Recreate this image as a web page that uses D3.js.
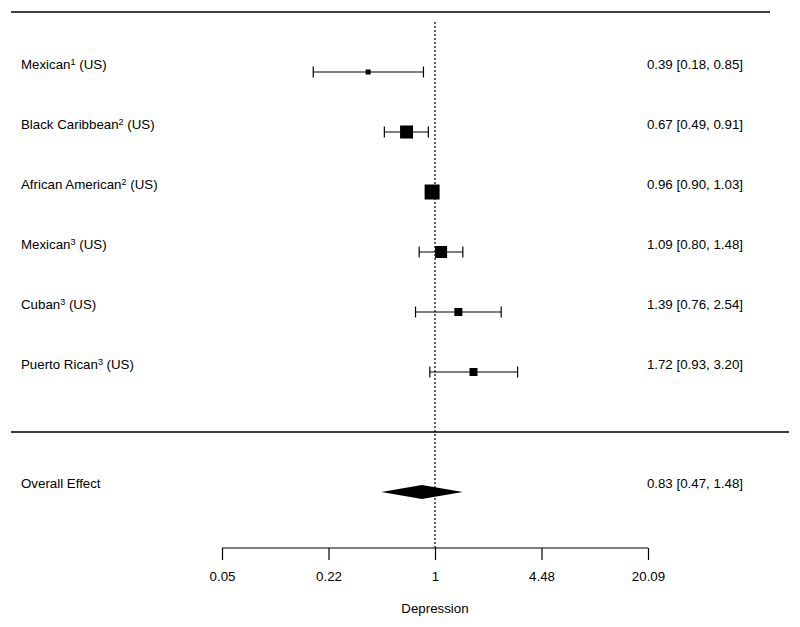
<!DOCTYPE html>
<html>
<head>
<meta charset="utf-8">
<script src="https://cdn.jsdelivr.net/npm/d3@7"></script>
<style>
  body { margin: 0; background: #fff; }
  text { font-family: "Liberation Sans", Arial, sans-serif; fill: #000; }
</style>
</head>
<body>
<div id="forest"></div>
<script>
// Size of the drawing (matches the window)
var w = 800;
var h = 627;
var fs = 13.3;

// Study data
var studies = ["Mexican", "Black Caribbean", "African American", "Mexican", "Cuban", "Puerto Rican"];
var notes = ["1", "2", "2", "3", "3", "3"];
var estimates = [0.39, 0.67, 0.96, 1.09, 1.39, 1.72];
var lowers = [0.18, 0.49, 0.90, 0.80, 0.76, 0.93];
var uppers = [0.85, 0.91, 1.03, 1.48, 2.54, 3.20];
var weights = [25, 169, 225, 144, 64, 64];

// Pooled estimate
var overall = { label: "Overall Effect", est: 0.83, lo: 0.47, hi: 1.48 };

// Axis ticks (exp(-3) .. exp(3))
var tickValues = [Math.exp(-3), Math.exp(-1.5), 1, Math.exp(1.5), Math.exp(3)];
var tickLabels = ["0.05", "0.22", "1", "4.48", "20.09"];

var svg = d3.select('#forest').append('svg')
      .attr('width', w)
      .attr('height', h);

var x = d3.scaleLog()
      .domain([Math.exp(-3), Math.exp(3)])
      .range([222, 648]);

var y = d3.scaleLinear()
      .domain([0, 5])
      .range([72, 372]);

var size = d3.scaleSqrt()
      .domain([0, d3.max(weights)])
      .range([0, 15]);

var fmt = d3.format(".2f");
var rows = studies.map(function(s, i) {
  return { name: s, note: notes[i], est: estimates[i], lo: lowers[i], hi: uppers[i], wt: weights[i], i: i };
});

// horizontal rules
svg.append('line').attr('x1', 11).attr('x2', 770).attr('y1', 12).attr('y2', 12)
  .attr('stroke', '#000').attr('stroke-width', 1.5);
svg.append('line').attr('x1', 11).attr('x2', 789).attr('y1', 432).attr('y2', 432)
  .attr('stroke', '#000').attr('stroke-width', 1.5);

// reference line at 1
svg.append('line')
  .attr('x1', x(1)).attr('x2', x(1))
  .attr('y1', 22).attr('y2', 548)
  .attr('stroke', '#000').attr('stroke-width', 1.2)
  .attr('stroke-dasharray', '2,2');

var g = svg.append('g').attr('class', 'studies')
  .selectAll('g')
    .data(rows)
  .enter().append('g');

// CI lines with end caps
g.append('line')
  .attr('x1', function(d) { return x(d.lo); })
  .attr('x2', function(d) { return x(d.hi); })
  .attr('y1', function(d) { return y(d.i); })
  .attr('y2', function(d) { return y(d.i); })
  .attr('stroke', '#000').attr('stroke-width', 1.2);

['lo', 'hi'].forEach(function(k) {
  g.append('line')
    .attr('x1', function(d) { return x(d[k]); })
    .attr('x2', function(d) { return x(d[k]); })
    .attr('y1', function(d) { return y(d.i) - 5.5; })
    .attr('y2', function(d) { return y(d.i) + 5.5; })
    .attr('stroke', '#000').attr('stroke-width', 1.2);
});

// weighted squares
g.append('rect')
  .attr('x', function(d) { return x(d.est) - size(d.wt) / 2; })
  .attr('y', function(d) { return y(d.i) - size(d.wt) / 2; })
  .attr('width', function(d) { return size(d.wt); })
  .attr('height', function(d) { return size(d.wt); })
  .attr('fill', '#000');

// study labels with superscripts
var lab = g.append('text')
  .attr('x', 21)
  .attr('y', function(d) { return y(d.i) - 3.3; })
  .attr('font-size', fs);
lab.append('tspan').text(function(d) { return d.name; });
lab.append('tspan').attr('font-size', 9).attr('dy', -4).text(function(d) { return d.note; });
lab.append('tspan').attr('dy', 4).text(' (US)');

// estimate text
g.append('text')
  .attr('x', 743)
  .attr('y', function(d) { return y(d.i) - 3.3; })
  .attr('font-size', fs)
  .attr('text-anchor', 'end')
  .text(function(d) { return fmt(d.est) + ' [' + fmt(d.lo) + ', ' + fmt(d.hi) + ']'; });

// overall effect diamond
var oy = 492;
svg.append('path')
  .attr('d', 'M' + x(overall.lo) + ',' + oy +
             'L' + x(overall.est) + ',' + (oy - 7) +
             'L' + x(overall.hi) + ',' + oy +
             'L' + x(overall.est) + ',' + (oy + 7) + 'Z')
  .attr('fill', '#000');

svg.append('text').attr('x', 21).attr('y', oy - 3.7).attr('font-size', fs)
  .text(overall.label);
svg.append('text').attr('x', 743).attr('y', oy - 3.7).attr('font-size', fs)
  .attr('text-anchor', 'end')
  .text(fmt(overall.est) + ' [' + fmt(overall.lo) + ', ' + fmt(overall.hi) + ']');

// x axis
var axis = d3.axisBottom(x)
  .tickValues(tickValues)
  .tickFormat(function(d, i) { return tickLabels[i]; })
  .tickSize(12)
  .tickPadding(12);

var ax = svg.append('g')
  .attr('transform', 'translate(0,548)')
  .call(axis);
ax.select('.domain').attr('d', 'M' + x.range()[0] + ',0H' + x.range()[1])
  .attr('stroke-width', 1.2);
ax.selectAll('.tick line').attr('stroke-width', 1.2);
ax.selectAll('.tick text')
  .attr('font-size', fs)
  .attr('font-family', '"Liberation Sans", Arial, sans-serif');

svg.append('text')
  .attr('x', x(1)).attr('y', 613)
  .attr('font-size', fs)
  .attr('text-anchor', 'middle')
  .text('Depression');
</script>
</body>
</html>
